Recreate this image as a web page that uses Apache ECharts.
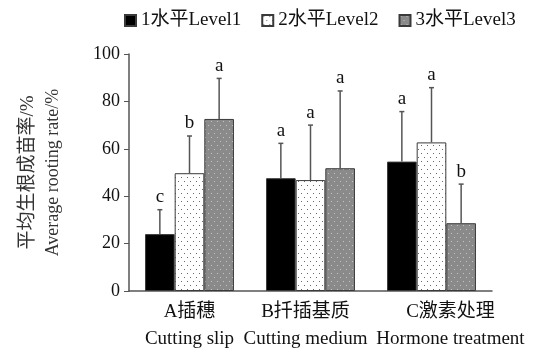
<!DOCTYPE html>
<html>
<head>
<meta charset="utf-8">
<script src="https://cdn.jsdelivr.net/npm/echarts@6/dist/echarts.min.js"></script>
<style>html,body{margin:0;padding:0;background:#fff;}#chart{width:537px;height:354px;}</style>
</head>
<body>
<div id="chart"></div>
<script>
const categoriesCN = ['A插穗', 'B扦插基质', 'C激素处理'];
const categoriesEN = ['Cutting slip', 'Cutting medium', 'Hormone treatment'];
const seriesNames = ['1水平Level1', '2水平Level2', '3水平Level3'];
const level1 = [24.0, 47.6, 54.6];
const level2 = [49.7, 46.8, 62.7];
const level3 = [72.6, 51.8, 28.6];
const err1 = [10.3, 14.7, 21.1];
const err2 = [15.7, 23.2, 23.1];
const err3 = [17.1, 32.6, 16.5];
const sig1 = ['c', 'a', 'a'];
const sig2 = ['b', 'a', 'a'];
const sig3 = ['a', 'a', 'b'];
const yMin = 0, yMax = 100, yInterval = 20;

const SERIF = '"Liberation Serif", "Noto Sans CJK SC", serif';
const BAR_FRAC = 0.245;

function makePattern(bg, dot) {
  const c = document.createElement('canvas');
  c.width = 6; c.height = 8;
  const ctx = c.getContext('2d');
  ctx.fillStyle = bg; ctx.fillRect(0, 0, 6, 8);
  ctx.fillStyle = dot;
  ctx.fillRect(1, 1, 1, 1);
  ctx.fillRect(4, 5, 1, 1);
  return c;
}
const dotPattern = { image: makePattern('#ffffff', '#6a6a6a'), repeat: 'repeat' };
const grayPattern = { image: makePattern('#8a8a8a', '#c4c4c4'), repeat: 'repeat' };
const fills = ['#000000', dotPattern, grayPattern];

const values = [level1, level2, level3];
const errs = [err1, err2, err3];
const sigs = [sig1, sig2, sig3];

const series = [];
values.forEach((vals, k) => {
  series.push({
    name: seriesNames[k],
    type: 'bar',
    data: vals,
    barWidth: (BAR_FRAC * 100) + '%',
    barGap: '0%',
    itemStyle: { color: fills[k], borderColor: '#3a3a3a', borderWidth: 1 },
    emphasis: { disabled: true }
  });
});
values.forEach((vals, k) => {
  series.push({
    name: 'err' + k,
    type: 'custom',
    data: vals.map((v, i) => [i, v, errs[k][i]]),
    clip: false,
    z: 5,
    renderItem: function (params, api) {
      const i = api.value(0), v = api.value(1), e = api.value(2);
      const band = api.size([1, 0])[0];
      const bw = band * BAR_FRAC;
      const base = api.coord([i, v]);
      const top = api.coord([i, v + e]);
      const x = base[0] + (k - 1) * bw;
      return {
        type: 'group',
        children: [
          { type: 'line', shape: { x1: x, y1: base[1], x2: x, y2: top[1] }, style: { stroke: '#555', lineWidth: 1.5 } },
          { type: 'line', shape: { x1: x - 2.5, y1: top[1], x2: x + 2.5, y2: top[1] }, style: { stroke: '#555', lineWidth: 1.5 } },
          { type: 'text', x: x, y: top[1] - 3,
            style: { text: sigs[k][params.dataIndex], font: '19px ' + SERIF, fill: '#111',
                     align: 'center', verticalAlign: 'bottom', textAlign: 'center', textVerticalAlign: 'bottom' } }
        ]
      };
    }
  });
});

const xData = categoriesCN.map((cn, i) => {
  const item = { value: cn + '\n' + categoriesEN[i] };
  if (i === 2) item.textStyle = { padding: [0, 0, 0, 38] };
  if (i === 1) item.textStyle = { padding: [0, 10, 0, 0] };
  return item;
});

const chart = echarts.init(document.getElementById('chart'), null, { renderer: 'canvas' });
chart.setOption({
  animation: false,
  backgroundColor: '#ffffff',
  legend: {
    data: seriesNames,
    top: 6,
    left: 119,
    icon: 'rect',
    itemWidth: 11,
    itemHeight: 11,
    itemGap: 20,
    textStyle: { fontFamily: SERIF, fontSize: 19, color: '#111' }
  },
  grid: { left: 129, right: 45, top: 54, bottom: 63, containLabel: false },
  xAxis: {
    type: 'category',
    data: xData,
    axisLine: { lineStyle: { color: '#555', width: 1.5 } },
    axisTick: { show: false },
    axisLabel: { fontFamily: SERIF, fontSize: 19, color: '#111', lineHeight: 27, margin: 8, interval: 0 }
  },
  yAxis: {
    type: 'value',
    min: yMin, max: yMax, interval: yInterval,
    splitLine: { show: false },
    axisLine: { show: true, lineStyle: { color: '#555', width: 1.5 } },
    axisTick: { show: true, length: 5, inside: false, lineStyle: { color: '#555' } },
    axisLabel: { fontFamily: SERIF, fontSize: 18, color: '#111', margin: 9 },
    name: '{cn|平均生根成苗率/%}\n{en|Average rooting rate/%}',
    nameLocation: 'middle',
    nameRotate: 90,
    nameGap: 63,
    nameTextStyle: {
      color: '#333', lineHeight: 25,
      rich: {
        cn: { fontFamily: SERIF, fontSize: 19, lineHeight: 25, color: '#333' },
        en: { fontFamily: SERIF, fontSize: 18, lineHeight: 25, color: '#333' }
      }
    }
  },
  series: series
});
</script>
</body>
</html>
